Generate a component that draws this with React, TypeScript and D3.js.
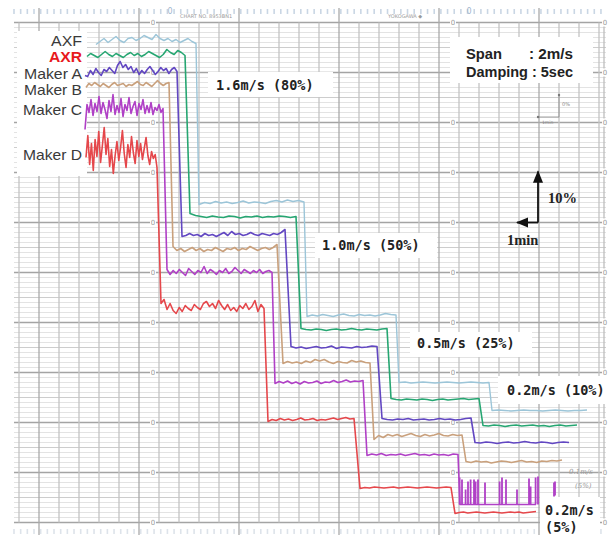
import React from 'react';
import * as d3 from 'd3';

const W = 614;
const H = 535;

// time axis in minutes (1 grid column = 1 min); value axis in % of chart span
const traceNames = ['AXF', 'AXR', 'Maker A', 'Maker B', 'Maker C', 'Maker D'];
const traceColors = ['#9cc5d8', '#26a672', '#6247c2', '#c9a07c', '#b040c6', '#e5474b'];

const axfStarts = [3.85, 9.0, 14.4, 19.0, 23.65];
const axfEnds = [8.85, 14.25, 18.85, 23.5, 28.4];
const axfValues = [
  [95.6, 96.2, 96.8, 96.0, 96.6, 97.2, 96.4, 96.0, 96.8, 97.0, 96.4, 96.8, 97.4, 97.0, 96.6, 97.6, 96.8, 96.4, 96.8, 96.2, 96.6, 96.0, 96.4, 96.8, 96.2, 95.8],
  [63.6, 64.0, 63.8, 64.2, 63.9, 64.1, 63.8, 64.0, 64.3, 63.9, 64.1, 64.0, 63.8, 64.2, 64.4, 64.1, 64.5, 64.2, 64.4, 64.1],
  [41.2, 41.5, 41.3, 41.6, 41.4, 41.2, 41.5, 41.7, 41.4, 41.3, 41.6, 41.4, 41.5, 41.3, 41.5, 41.8, 41.6, 41.5],
  [28.0, 28.1, 27.9, 28.0, 28.1, 28.0, 27.9, 28.0, 28.1, 28.0, 27.9, 28.0, 28.1, 28.0, 27.9, 28.0],
  [22.4, 22.5, 22.4, 22.3, 22.4, 22.5, 22.4, 22.4, 22.3, 22.4, 22.5, 22.4, 22.3, 22.4, 22.4, 22.5],
];

const axrStarts = [3.4, 8.55, 14.1, 18.6, 23.2];
const axrEnds = [8.3, 13.85, 18.4, 23.0, 27.9];
const axrValues = [
  [93.2, 93.8, 93.4, 93.0, 93.6, 94.2, 93.6, 93.2, 93.8, 93.4, 93.0, 93.6, 94.0, 93.4, 93.8, 93.2, 93.6, 94.2, 93.8, 93.4, 93.0, 93.6, 94.6, 94.0, 93.6, 94.4, 94.0, 93.4],
  [61.8, 61.4, 61.2, 61.0, 61.3, 61.1, 61.0, 61.3, 61.2, 60.9, 61.2, 61.1, 61.3, 61.0, 61.2, 61.1, 61.3, 61.2, 61.0, 61.2],
  [38.8, 38.6, 38.5, 38.7, 38.6, 38.4, 38.6, 38.7, 38.5, 38.6, 38.8, 38.6, 38.5, 38.7, 38.6, 38.5, 38.7, 38.8],
  [24.8, 24.6, 24.5, 24.7, 24.6, 24.5, 24.7, 24.6, 24.4, 24.6, 24.7, 24.5, 24.6, 24.7, 24.8, 24.6, 24.7, 24.8],
  [19.4, 19.3, 19.5, 19.4, 19.2, 19.4, 19.5, 19.3, 19.4, 19.5, 19.3, 19.4, 19.2, 19.4, 19.5, 19.3, 19.4, 19.5],
];

const makerAStarts = [3.3, 8.15, 13.6, 18.15, 22.8];
const makerAEnds = [7.9, 13.3, 17.9, 22.6, 27.5];
const makerAValues = [
  [89.4, 89.2, 90.4, 89.6, 90.8, 90.0, 89.4, 90.6, 90.2, 91.0, 90.4, 89.8, 91.4, 92.2, 91.0, 91.6, 90.6, 91.2, 90.0, 90.8, 89.6, 90.4, 89.8, 90.6, 91.2, 90.4, 89.6, 90.2, 91.0, 90.4, 90.8, 89.8, 90.6, 91.0, 90.2],
  [57.2, 57.4, 57.8, 57.4, 57.6, 57.2, 57.8, 57.4, 57.6, 57.2, 57.6, 58.0, 57.4, 58.2, 57.6, 57.8, 57.4, 57.6, 58.0, 57.6, 57.4, 57.8, 57.6, 57.4, 57.8, 57.6, 58.0, 58.6],
  [35.2, 34.9, 35.1, 34.8, 35.0, 35.2, 34.9, 35.0, 35.3, 34.8, 35.1, 35.0, 34.9, 35.2, 35.0, 35.1, 35.3, 35.2],
  [20.8, 20.6, 20.5, 20.7, 20.6, 20.8, 20.5, 20.6, 20.7, 20.5, 20.6, 20.8, 20.6, 20.7, 20.5, 20.6, 20.8, 20.9],
  [16.0, 15.9, 16.1, 16.0, 15.8, 16.0, 16.1, 15.9, 16.0, 16.2, 16.0, 15.9, 16.1, 16.0, 15.8, 16.0, 16.1, 16.0],
];

const makerBStarts = [3.35, 7.7, 13.2, 17.75, 22.35];
const makerBEnds = [7.5, 12.9, 17.55, 22.15, 27.15];
const makerBValues = [
  [87.0, 87.8, 87.4, 88.0, 87.6, 87.2, 87.8, 87.4, 87.0, 87.6, 88.0, 87.4, 87.6, 87.8, 87.2, 87.6, 87.4, 87.8, 88.2, 87.6, 87.4, 88.0, 87.6, 87.2, 87.8, 88.4, 87.8, 87.4, 87.8, 88.0],
  [55.2, 54.4, 54.8, 54.2, 54.6, 55.0, 54.4, 54.8, 54.2, 54.6, 54.4, 55.0, 54.6, 54.2, 54.8, 54.6, 55.0, 54.4, 54.8, 54.6, 55.2, 54.8, 54.4, 54.8, 55.0, 54.6, 55.0, 55.6],
  [31.8, 32.2, 31.9, 32.1, 31.8, 32.3, 32.0, 32.6, 32.3, 32.6, 32.1, 31.8, 32.2, 32.0, 31.9, 32.4, 32.1, 32.3, 32.0, 31.9],
  [16.6, 17.4, 17.0, 17.6, 17.3, 17.6, 17.2, 17.5, 17.8, 17.4, 17.2, 17.6, 17.3, 17.5, 17.8, 17.4, 17.3, 17.6, 17.4, 17.5],
  [12.2, 12.0, 12.3, 12.1, 12.2, 11.9, 12.1, 12.3, 12.2, 12.0, 12.2, 12.4, 12.1, 12.2, 12.0, 12.3, 12.2, 12.4, 12.3, 12.5],
];

const makerCStarts = [3.3, 7.4, 12.8, 17.4, 22.05];
const makerCEnds = [7.2, 12.65, 17.2, 21.95, 25.85];
const makerCValues = [
  [78.6, 83.6, 82.0, 84.6, 81.4, 83.8, 82.2, 85.2, 81.8, 84.0, 82.6, 80.8, 84.4, 82.2, 85.6, 81.6, 83.4, 82.0, 84.8, 81.2, 83.6, 82.4, 85.0, 81.8, 83.2, 84.2, 81.4, 83.8, 82.6, 84.6, 81.8, 83.4, 82.0, 84.0, 81.6, 83.0, 82.4, 83.6, 82.0, 82.8],
  [50.6, 49.6, 50.4, 49.8, 50.6, 50.0, 49.4, 50.8, 50.2, 49.6, 50.4, 50.0, 51.2, 49.8, 50.6, 50.2, 49.6, 50.4, 50.0, 50.8, 49.8, 50.2, 51.0, 50.4, 49.8, 50.6, 50.2, 49.8, 50.4, 50.0, 50.6, 49.8, 50.2, 50.4, 50.0],
  [27.8, 28.2, 27.9, 28.3, 27.8, 28.1, 27.7, 28.2, 27.9, 28.0, 28.3, 27.8, 28.1, 28.0, 28.4, 28.0, 28.2, 28.5, 28.1, 28.3, 28.2, 28.4],
  [13.4, 13.7, 13.5, 13.8, 13.4, 13.6, 13.5, 13.7, 13.4, 13.6, 13.8, 13.5, 13.6, 13.4, 13.7, 13.5, 13.6, 13.4, 13.7, 13.6],
  [3.6, 3.6],
];
// Maker C spikes at 0.2 m/s (5%)
const makerCSpikeTimes = [22.03, 22.15, 22.33, 22.45, 22.58, 22.75, 22.83, 22.95, 23.3, 24.03, 24.15, 24.35, 24.9, 25.5, 25.58, 25.83, 25.95, 26.75, 26.8];
const makerCSpikeTops = [9.0, 8.6, 6.6, 8.2, 8.6, 8.6, 8.2, 8.6, 8.0, 8.2, 9.0, 8.6, 6.6, 8.8, 7.2, 9.0, 9.2, 8.0, 8.2];
const makerCSpikeBottoms = [3.6, 3.6, 3.6, 3.6, 3.6, 3.6, 3.6, 3.6, 3.6, 3.6, 3.6, 3.6, 3.6, 3.6, 3.6, 3.6, 3.6, 5.2, 5.4];

const makerDStarts = [3.35, 7.1, 12.45, 17.05, 21.8];
const makerDEnds = [6.9, 12.25, 16.75, 21.6, 25.85];
const makerDValues = [
  [73.0, 77.4, 71.6, 75.8, 70.4, 76.6, 73.2, 78.2, 72.0, 75.4, 79.0, 73.6, 76.8, 71.2, 74.6, 69.8, 73.4, 76.2, 72.4, 75.0, 78.4, 73.8, 71.0, 75.6, 73.0, 77.2, 74.0, 71.8, 76.4, 73.2, 75.8, 72.6, 74.8, 77.0, 73.4, 71.6, 74.2, 72.8, 73.6, 71.0],
  [43.8, 44.6, 42.6, 43.8, 42.4, 41.8, 43.0, 42.2, 43.4, 42.8, 42.4, 43.6, 43.0, 42.6, 43.8, 44.2, 43.2, 43.8, 42.8, 44.4, 43.4, 42.6, 43.6, 42.4, 43.0, 42.2, 43.4, 42.8, 43.8, 42.6, 43.2, 44.4, 42.2, 43.6, 42.8],
  [20.2, 20.6, 20.4, 20.8, 20.5, 20.7, 20.4, 20.6, 20.9, 20.5, 20.6, 20.8, 20.4, 20.6, 20.5, 20.7, 20.9, 20.6, 20.8, 21.0, 20.7, 20.8],
  [6.8, 7.0, 6.9, 7.1, 7.0, 6.9, 7.0, 7.1, 6.9, 7.0, 7.1, 7.0, 6.9, 7.0, 7.1, 7.0, 6.9, 7.0, 7.1, 7.0],
  [1.8, 2.0, 2.1, 1.9, 2.0, 2.1, 2.0, 1.9, 2.0, 2.1, 2.0, 1.9, 2.0, 2.1, 2.0, 2.1, 1.9, 2.0, 2.1, 2.2],
];

const traceStarts = [axfStarts, axrStarts, makerAStarts, makerBStarts, makerCStarts, makerDStarts];
const traceEnds = [axfEnds, axrEnds, makerAEnds, makerBEnds, makerCEnds, makerDEnds];
const traceValues = [axfValues, axrValues, makerAValues, makerBValues, makerCValues, makerDValues];

const speedLabels = ['1.6m/s (80%)', '1.0m/s (50%)', '0.5m/s (25%)', '0.2m/s (10%)'];

export default function App() {
  const x = d3.scaleLinear().domain([-0.25, 29.35]).range([14, 606]);
  const y = d3.scaleLinear().domain([0, 100]).range([522.5, 22.5]);
  const line = d3.line<[number, number]>().x(d => x(d[0])).y(d => y(d[1]));

  const pointsFor = (starts: number[], ends: number[], values: number[][]) => {
    const pts: [number, number][] = [];
    values.forEach((vals, i) => {
      const n = vals.length;
      vals.forEach((v, j) => {
        const t = starts[i] + (ends[i] - starts[i]) * (n === 1 ? 0 : j / (n - 1));
        pts.push([t, v]);
      });
    });
    return pts;
  };

  const hTicks = d3.range(0, 101);
  const vTicks = d3.range(0, 30);
  const dashXs = d3.range(14, 607, 6.67);
  const majorTicks = d3.range(0, 101, 10);

  const spikePath = makerCSpikeTimes
    .map((t, i) => `M${x(t)},${y(makerCSpikeBottoms[i])}L${x(t)},${y(makerCSpikeTops[i])}`)
    .join('');

  const legendY = [46, 62.3, 78.8, 95.3, 115, 160];
  const legendW = [31, 33, 58, 58, 59, 59];

  const mono = "'DejaVu Sans Mono', monospace";
  return (
    <div style={{ position: 'fixed', left: 0, top: 0 }}>
      <svg width={W} height={H} style={{ display: 'block', background: '#fff' }}>
        <rect x={0} y={0} width={W} height={H} fill="#fff" />
        {/* top / bottom perforation ticks */}
        {dashXs.map((d, i) => (
          <g key={'dash' + i}>
            <line x1={d} x2={d} y1={9} y2={14} stroke="#c9d6e4" strokeWidth={1.6} />
            <line x1={d} x2={d} y1={529} y2={534} stroke="#dde3ea" strokeWidth={1.6} />
          </g>
        ))}
        {/* horizontal grid */}
        {hTicks.map(v => {
          const major = v % 10 === 0;
          const mid = v % 5 === 0;
          return (
            <line
              key={'h' + v}
              x1={14}
              x2={606}
              y1={y(v)}
              y2={y(v)}
              stroke={major ? '#a4a4a4' : mid ? '#cdcdcd' : '#e3e3e3'}
              strokeWidth={major ? 1.3 : 1}
            />
          );
        })}
        {/* vertical grid */}
        {vTicks.map(t => {
          const heavy = t % 5 === 1;
          return (
            <line
              key={'v' + t}
              x1={x(t)}
              x2={x(t)}
              y1={heavy ? 8 : y(100)}
              y2={heavy ? 535 : y(0)}
              stroke={heavy ? '#a9a9a9' : '#c3c3c3'}
              strokeWidth={1.3}
            />
          );
        })}
        <line x1={604} x2={604} y1={y(100)} y2={y(0)} stroke="#bdbdbd" strokeWidth={1.3} />
        {/* chart paper scale marks */}
        {majorTicks.map(v => (
          <g key={'s' + v} fill="#9a9a9a" fontSize={7} fontFamily="'DejaVu Sans', sans-serif">
            {[153, 453, 605].map(px => (
              <g key={px}>
                <rect x={px - 3} y={y(v) - 4} width={6} height={8} fill="#fff" />
                <text x={px} y={y(v) + 2.5} textAnchor="middle">0</text>
              </g>
            ))}
          </g>
        ))}
        <text x={180} y={18} fontSize={5} fill="#9a9a9a" fontFamily="'DejaVu Sans', sans-serif">CHART NO. 8953BN1</text>
        <text x={388} y={18} fontSize={5} fill="#9a9a9a" fontFamily="'DejaVu Sans', sans-serif">YOKOGAWA ◆</text>
        <text x={170} y={14} fontSize={8} fill="#9fb6cc" fontFamily="'DejaVu Sans', sans-serif" textAnchor="middle">0</text>
        <text x={469} y={14} fontSize={8} fill="#9fb6cc" fontFamily="'DejaVu Sans', sans-serif" textAnchor="middle">0</text>

        {/* white label boxes */}
        <rect x={17} y={31} width={70} height={145} fill="#fff" />
        <rect x={208} y={72} width={125} height={25} fill="#fff" />
        <rect x={450} y={37} width={143} height={46} fill="#fff" />
        <rect x={315} y={233} width={122} height={25} fill="#fff" />
        <rect x={410} y={332} width={122} height={25} fill="#fff" />
        <rect x={498} y={376} width={114} height={28} fill="#fff" />
        <rect x={540} y={497} width={60} height={38} fill="#fff" />

        {/* small scale indicator */}
        <g stroke="#888" strokeWidth={0.8} fill="none">
          <path d="M538,117 L559,117 L559,95" />
        </g>
        <circle cx={538} cy={117} r={1.2} fill="#777" />
        <circle cx={559} cy={95} r={1.2} fill="#777" />
        <text x={562} y={106} fontSize={5} fill="#888" fontFamily="'DejaVu Sans', sans-serif">0%</text>
        <text x={542} y={124} fontSize={4.5} fill="#888" fontFamily="'DejaVu Sans', sans-serif">1min</text>

        {/* traces */}
        {traceValues.map((vals, i) => (
          <path
            key={traceNames[i]}
            d={line(pointsFor(traceStarts[i], traceEnds[i], vals)) || ''}
            fill="none"
            stroke={traceColors[i]}
            strokeWidth={i === 0 ? 1.4 : 1.6}
            strokeLinejoin="round"
          />
        ))}
        <path d={spikePath} stroke={traceColors[4]} strokeWidth={1.8} fill="none" />

        {/* legend */}
        {traceNames.map((n, i) => (
          <text
            key={'lg' + n}
            x={82 - legendW[i]}
            y={legendY[i]}
            textLength={legendW[i]}
            lengthAdjust="spacingAndGlyphs"
            fontFamily="'Liberation Sans', Arial, sans-serif"
            fontSize={14.5}
            fontWeight={i === 1 ? 'bold' : 'normal'}
            fill={i === 1 ? '#e8191c' : '#3a3a3a'}
          >
            {n}
          </text>
        ))}

        {/* speed labels */}
        <g fontFamily={mono} fontWeight="bold" fontSize={13.5} fill="#222">
          <text x={216} y={90}>{speedLabels[0]}</text>
          <text x={322} y={250}>{speedLabels[1]}</text>
          <text x={417} y={348}>{speedLabels[2]}</text>
          <text x={507} y={395}>{speedLabels[3]}</text>
          <text x={545} y={515}>0.2m/s</text>
          <text x={545} y={532}>(5%)</text>
        </g>
        <g fontFamily="'DejaVu Serif', serif" fontStyle="italic" fontSize={7} fill="#9a9a9a">
          <text x={569} y={474}>0.1m/s</text>
          <text x={575} y={488}>(5%)</text>
        </g>

        {/* span / damping */}
        <g fontFamily="'Liberation Sans', Arial, sans-serif" fontWeight="bold" fontSize={15} fill="#222">
          <text x={466} y={59} textLength={36} lengthAdjust="spacingAndGlyphs">Span</text>
          <text x={529} y={59} textLength={44} lengthAdjust="spacingAndGlyphs">: 2m/s</text>
          <text x={466} y={77} textLength={107} lengthAdjust="spacingAndGlyphs">Damping : 5sec</text>
        </g>

        {/* 10% / 1min arrows */}
        <defs>
          <marker id="ah" viewBox="0 0 10 10" refX={9} refY={5} markerWidth={7} markerHeight={7} orient="auto-start-reverse">
            <path d="M0,1 L10,5 L0,9 z" fill="#111" />
          </marker>
        </defs>
        <line x1={538} y1={y(60)} x2={538} y2={y(70.2)} stroke="#111" strokeWidth={1.8} markerEnd="url(#ah)" />
        <line x1={538} y1={y(60)} x2={x(24.9)} y2={y(60)} stroke="#111" strokeWidth={1.8} markerEnd="url(#ah)" />
        <g fontFamily="'Liberation Serif', serif" fontWeight="bold" fontSize={14.5} fill="#222">
          <text x={548} y={203}>10%</text>
          <text x={507} y={245}>1min</text>
        </g>
      </svg>
    </div>
  );
}
